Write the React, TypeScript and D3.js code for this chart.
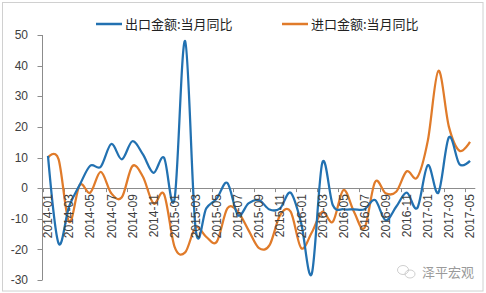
import React from "react";
import * as d3 from "d3";

const months = [
  "2014-01","2014-02","2014-03","2014-04","2014-05","2014-06","2014-07","2014-08","2014-09","2014-10","2014-11","2014-12",
  "2015-01","2015-02","2015-03","2015-04","2015-05","2015-06","2015-07","2015-08","2015-09","2015-10","2015-11","2015-12",
  "2016-01","2016-02","2016-03","2016-04","2016-05","2016-06","2016-07","2016-08","2016-09","2016-10","2016-11","2016-12",
  "2017-01","2017-02","2017-03","2017-04","2017-05",
];

const exportsYoY = [
  10.5, -18, -6, 1, 7.3, 7, 14.4, 9.4, 15.3, 11, 5, 9.9,
  -3.5, 48, -13.5, -6.6, -3.4, 1.7, -8.8, -5, -3.9, -7, -6.6, -1.5,
  -11.5, -28, 8.3, -5.6, -6.9, -6.9, -6.9, -3.9, -10.5, -6.1, -1.5, -6.5,
  7.5, -1.5, 16.6, 7.8, 8.9,
];

const importsYoY = [
  10, 9.5, -11, 1, -1.5, 5.3, -1.7, -3, 7.2, 3.7, -5, -2,
  -19.2, -21, -12.8, -15.9, -17.5, -6.6, -7.7, -13.7, -19.6, -18.6, -8.8, -7.7,
  -19.6, -14.5, -7.7, -11, -0.6, -7.7, -13, 2, -1.7, -1.2, 5.5, 3.5,
  15.5, 38.3, 20, 12.2, 15.1,
];

const yTicks = [-30, -20, -10, 0, 10, 20, 30, 40, 50];
const seriesNames = ["出口金额:当月同比", "进口金额:当月同比"];
const seriesColors = ["#2271b1", "#e07b2a"];
const watermark = "泽平宏观";

export default function App() {
  const W = 486, H = 293;
  const x = d3.scaleBand<string>().domain(months).range([42.7, 475.3]).padding(0);
  const cx = (m: string) => (x(m) as number) + x.bandwidth() / 2;
  const y = d3.scaleLinear().domain([-30, 50]).range([280, 35]);

  const line = d3
    .line<number>()
    .x((_, i) => cx(months[i]))
    .y((d) => y(d))
    .curve(d3.curveCardinal.tension(0));

  const labelMonths = months.filter((_, i) => i % 2 === 0);
  const axisColor = "#8c8c8c";
  const numFont = "'Liberation Sans', Arial, sans-serif";
  const cjkFont = "'Noto Sans CJK SC', sans-serif";

  return (
    <svg width={W} height={H} style={{ position: "absolute", left: 0, top: 0, background: "#fff" }}>
      <rect x={2.5} y={2.5} width={480.5} height={288.5} fill="#fff" stroke="#d0d0d0" strokeWidth={1} />

      {/* y axis */}
      <line x1={42.5} x2={42.5} y1={y(50)} y2={y(-30)} stroke={axisColor} strokeWidth={1} />
      {yTicks.map((t) => (
        <g key={t}>
          <line x1={37.5} x2={42.5} y1={Math.round(y(t)) + 0.5} y2={Math.round(y(t)) + 0.5} stroke={axisColor} />
          <text x={28} y={y(t)} dy="0.35em" textAnchor="end" fontFamily={numFont} fontSize={12} fill="#404040">
            {t}
          </text>
        </g>
      ))}

      {/* x axis at zero */}
      <line x1={42.5} x2={475.3} y1={Math.round(y(0)) + 0.5} y2={Math.round(y(0)) + 0.5} stroke={axisColor} />
      {labelMonths.map((m) => (
        <line
          key={"t" + m}
          x1={Math.round(x(m) as number) + 0.5}
          x2={Math.round(x(m) as number) + 0.5}
          y1={y(0)}
          y2={y(0) + 4}
          stroke={axisColor}
        />
      ))}

      {/* lines */}
      <path d={line(importsYoY) || ""} fill="none" stroke={seriesColors[1]} strokeWidth={2.25} />
      <path d={line(exportsYoY) || ""} fill="none" stroke={seriesColors[0]} strokeWidth={2.25} />

      {/* x labels */}
      {labelMonths.map((m) => (
        <text
          key={"l" + m}
          transform={`translate(${cx(m) + 4.3},${y(0) + 6}) rotate(-90)`}
          textAnchor="end"
          fontFamily={numFont}
          fontSize={12}
          fill="#404040"
        >
          {m}
        </text>
      ))}

      {/* legend */}
      <line x1={96} x2={122} y1={24} y2={24} stroke={seriesColors[0]} strokeWidth={2.5} />
      <text x={125} y={24} dy="0.36em" fontFamily={cjkFont} fontSize={13} fill="#222">
        {seriesNames[0]}
      </text>
      <line x1={282} x2={308} y1={24} y2={24} stroke={seriesColors[1]} strokeWidth={2.5} />
      <text x={311} y={24} dy="0.36em" fontFamily={cjkFont} fontSize={13} fill="#222">
        {seriesNames[1]}
      </text>

      {/* watermark */}
      <g stroke="#c8c8c8" fill="none" strokeWidth={0.9}>
        <ellipse cx={403} cy={270} rx={5.5} ry={4.5} />
        <ellipse cx={410} cy={274} rx={5} ry={4} />
      </g>
      <text x={422} y={272} dy="0.36em" fontFamily={cjkFont} fontSize={13} fill="#9a9a9a">
        {watermark}
      </text>
    </svg>
  );
}
